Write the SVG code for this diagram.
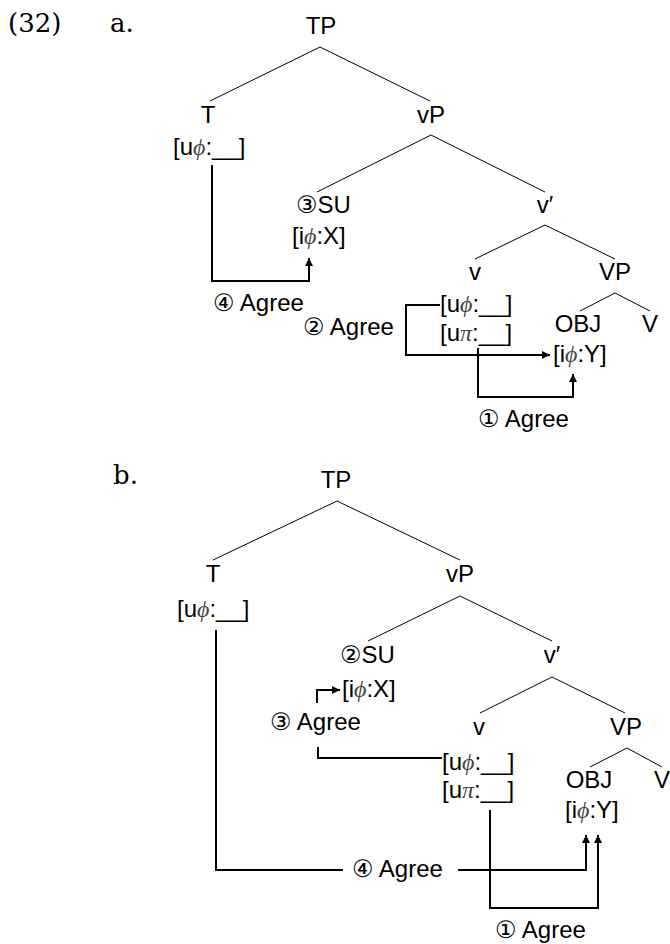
<svg xmlns="http://www.w3.org/2000/svg" width="670" height="944" viewBox="0 0 670 944">
<style>
.n{font-family:"Liberation Sans","DejaVu Sans",sans-serif;font-size:24px;fill:#000}
.m{text-anchor:middle}
.g{font-family:"Liberation Serif",serif;font-style:italic;fill:#444}
.s{font-family:"DejaVu Serif",serif;font-size:26px;fill:#000}
.e{stroke:#000;stroke-width:1;fill:none}
.c{stroke:#000;stroke-width:2;fill:none}
</style>
<defs>
<marker id="ah" viewBox="0 0 10 10" refX="10" refY="5" markerWidth="8" markerHeight="8" markerUnits="userSpaceOnUse" orient="auto">
<path d="M0,0 L10,5 L0,10 Z" fill="#000"/>
</marker>
</defs>
<rect width="670" height="944" fill="#fff"/>
<g id="labels">
<text class="s" x="8" y="32">(32)</text>
<text class="s" x="110" y="32">a.</text>
<text class="s" x="113" y="484">b.</text>
</g>
<g id="a-edges">
<path class="e" d="M320,47 L210,101 M320,47 L430,101"/>
<path class="e" d="M431,135 L317,192 M431,135 L545,192"/>
<path class="e" d="M545,225 L475,259 M545,225 L615,259"/>
<path class="e" d="M615,293 L580,311 M615,293 L650,311"/>
</g>
<g id="a-TP"><text class="n m" x="321" y="34">TP</text></g>
<g id="a-T"><text class="n m" x="208" y="123">T</text><text class="n" x="173" y="155">[u<tspan class="g">ϕ</tspan>:__]</text></g>
<g id="a-vP"><text class="n m" x="431" y="123">vP</text></g>
<g id="a-SU"><text class="n" x="296" y="213">③SU</text><text class="n" x="292" y="244">[i<tspan class="g">ϕ</tspan>:X]</text></g>
<g id="a-vbar"><text class="n m" x="545" y="213">v′</text></g>
<g id="a-v"><text class="n m" x="475" y="280">v</text><text class="n" x="440" y="312">[u<tspan class="g">ϕ</tspan>:__]</text><text class="n" x="440" y="341">[u<tspan class="g">π</tspan>:__]</text></g>
<g id="a-VP"><text class="n m" x="615" y="280">VP</text></g>
<g id="a-OBJ"><text class="n m" x="578" y="332">OBJ</text><text class="n" x="553" y="362">[i<tspan class="g">ϕ</tspan>:Y]</text></g>
<g id="a-V"><text class="n m" x="650" y="332">V</text></g>
<g id="a-agree">
<text class="n" x="213" y="311">④ Agree</text>
<text class="n" x="303" y="335">② Agree</text>
<text class="n" x="478" y="427">① Agree</text>
</g>
<g id="a-connectors">
<path class="c" d="M212,165 V281 H309 V258" marker-end="url(#ah)"/>
<path class="c" d="M440,305 H406 V355 H550" marker-end="url(#ah)"/>
<path class="c" d="M478,348 V397 H573 V374" marker-end="url(#ah)"/>
</g>
<g id="b-edges">
<path class="e" d="M337,501 L213,560 M337,501 L460,560"/>
<path class="e" d="M460,596 L368,641 M460,596 L552,641"/>
<path class="e" d="M552,677 L480,713 M552,677 L625,713"/>
<path class="e" d="M627,748 L590,767 M627,748 L662,767"/>
</g>
<g id="b-TP"><text class="n m" x="336" y="488">TP</text></g>
<g id="b-T"><text class="n m" x="213" y="582">T</text><text class="n" x="177" y="617">[u<tspan class="g">ϕ</tspan>:__]</text></g>
<g id="b-vP"><text class="n m" x="460" y="582">vP</text></g>
<g id="b-SU"><text class="n" x="340" y="663">②SU</text><text class="n" x="342" y="697">[i<tspan class="g">ϕ</tspan>:X]</text></g>
<g id="b-vbar"><text class="n m" x="552" y="663">v′</text></g>
<g id="b-v"><text class="n m" x="479" y="735">v</text><text class="n" x="442" y="770">[u<tspan class="g">ϕ</tspan>:__]</text><text class="n" x="442" y="798">[u<tspan class="g">π</tspan>:__]</text></g>
<g id="b-VP"><text class="n m" x="626" y="735">VP</text></g>
<g id="b-OBJ"><text class="n m" x="589" y="788">OBJ</text><text class="n" x="565" y="818">[i<tspan class="g">ϕ</tspan>:Y]</text></g>
<g id="b-V"><text class="n m" x="662" y="788">V</text></g>
<g id="b-agree">
<text class="n" x="270" y="730">③ Agree</text>
<text class="n" x="352" y="877">④ Agree</text>
<text class="n" x="495" y="938">① Agree</text>
</g>
<g id="b-connectors">
<path class="c" d="M317,703 V690 H340" marker-end="url(#ah)"/>
<path class="c" d="M318,747 V758 H442"/>
<path class="c" d="M216,630 V870 H343"/>
<path class="c" d="M458,870 H586 V835" marker-end="url(#ah)"/>
<path class="c" d="M490,810 V908 H598 V835" marker-end="url(#ah)"/>
</g>
</svg>
